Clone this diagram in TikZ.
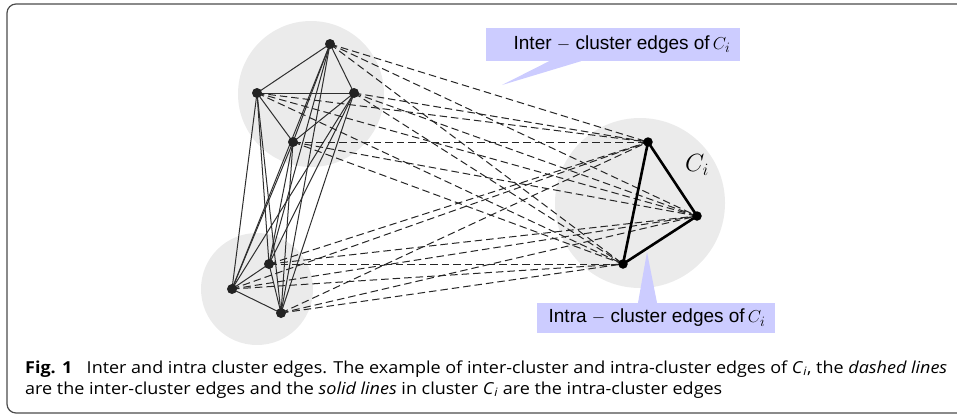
\documentclass[tikz,border=0pt]{standalone}
\usepackage{graphicx}
\usepackage{fontspec}
\setsansfont{Liberation Sans}
\newfontfamily\capfont{Open Sans}
\pgfdeclarelayer{bg}
\pgfdeclarelayer{edges}
\pgfsetlayers{bg,edges,main}
\definecolor{clfill}{RGB}{235,235,235}
\definecolor{callcol}{RGB}{204,204,255}
\definecolor{dotcol}{RGB}{35,35,35}
\tikzset{
  dot/.style={circle,fill=dotcol,inner sep=0pt,minimum size=10pt},
  cdot/.style={circle,fill=black,inner sep=0pt,minimum size=9.5pt},
  cluster/.style={fill=clfill,draw=none},
  inter/.style={draw=black!85,line width=1pt,dash pattern=on 7.5pt off 4pt},
  intra/.style={draw=black!82,line width=1pt},
  intrac/.style={draw=black,line width=2.6pt,line join=round},
  callbox/.style={fill=callcol,inner sep=0pt},
  calltext/.style={inner sep=0pt,font=\sffamily\fontsize{19}{21}\selectfont},
  frame/.style={draw=black!70,line width=1.2pt,rounded corners=9pt},
  captext/.style={anchor=base west,inner sep=0pt,font=\capfont\fontsize{16.5}{21}\selectfont}
}
\begin{document}
\begin{tikzpicture}[x=1pt,y=-1pt]
\clip (0,0) rectangle (957,416);
% frame
\draw[frame] (7,4) rectangle (990,413);
% clusters
\begin{pgfonlayer}{bg}
\fill[cluster] (311,94) circle[radius=73pt];
\fill[cluster] (257,289) circle[radius=56pt];
\fill[cluster] (640,203) circle[radius=85pt];
\end{pgfonlayer}
% nodes
\node[dot] (a1) at (330,44) {};
\node[dot] (a2) at (257,93) {};
\node[dot] (a3) at (354,93) {};
\node[dot] (a4) at (293,142) {};
\node[dot] (b1) at (232,289) {};
\node[dot] (b2) at (269,264) {};
\node[dot] (b3) at (281,313) {};
\node[cdot] (c1) at (648,142) {};
\node[cdot] (c2) at (697,216) {};
\node[cdot] (c3) at (623,264) {};
\node[font=\fontsize{26}{28}\selectfont] (cl) at (697,165) {$C_i$};
% edges
\begin{pgfonlayer}{edges}
\foreach \u/\v in {a1/a2,a1/a3,a1/a4,a1/b1,a1/b2,a1/b3,
                   a2/a3,a2/a4,a2/b1,a2/b2,a2/b3,
                   a3/a4,a3/b1,a3/b2,a3/b3,
                   a4/b1,a4/b2,a4/b3,
                   b1/b2,b1/b3,b2/b3}
  \draw[intra] (\u.center) -- (\v.center);
\foreach \u in {a1,a2,a3,a4,b1,b2,b3}
  \foreach \v in {c1,c2,c3}
    \draw[inter] (\u.center) -- (\v.center);
\draw[intrac] (c1.center) -- (c2.center) -- (c3.center) -- cycle;
\end{pgfonlayer}
% callouts
\node[callbox,minimum width=254pt,minimum height=33pt] (t1box) at (613,44.5) {};
\node[calltext] (t1) at (622,44.5) {Inter $-$ cluster edges of\,$C_i$};
\coordinate (p1) at (502,85);
\fill[callcol] ([xshift=-64pt]t1box.south) -- (p1) -- ([xshift=-32pt]t1box.south) -- cycle;
\node[callbox,minimum width=238pt,minimum height=30pt] (t2box) at (656,318) {};
\node[calltext] (t2) at (657,318) {Intra $-$ cluster edges of\,$C_i$};
\coordinate (p2) at (647,252);
\fill[callcol] ([xshift=-18pt]t2box.north) -- (p2) -- ([xshift=1pt]t2box.north) -- cycle;
% caption
\node[captext] (cap) at (25,373) {\resizebox{922pt}{\height}{\begin{tabular}[t]{@{}l@{}}\textbf{Fig. 1}\hspace{0.8em}Inter and intra cluster edges. The example of inter-cluster and intra-cluster edges of \textit{C}\textsubscript{\textit{i}}, the \textit{dashed lines}\\
are the inter-cluster edges and the \textit{solid lines} in cluster \textit{C}\textsubscript{\textit{i}} are the intra-cluster edges\end{tabular}}};
\end{tikzpicture}
\end{document}
